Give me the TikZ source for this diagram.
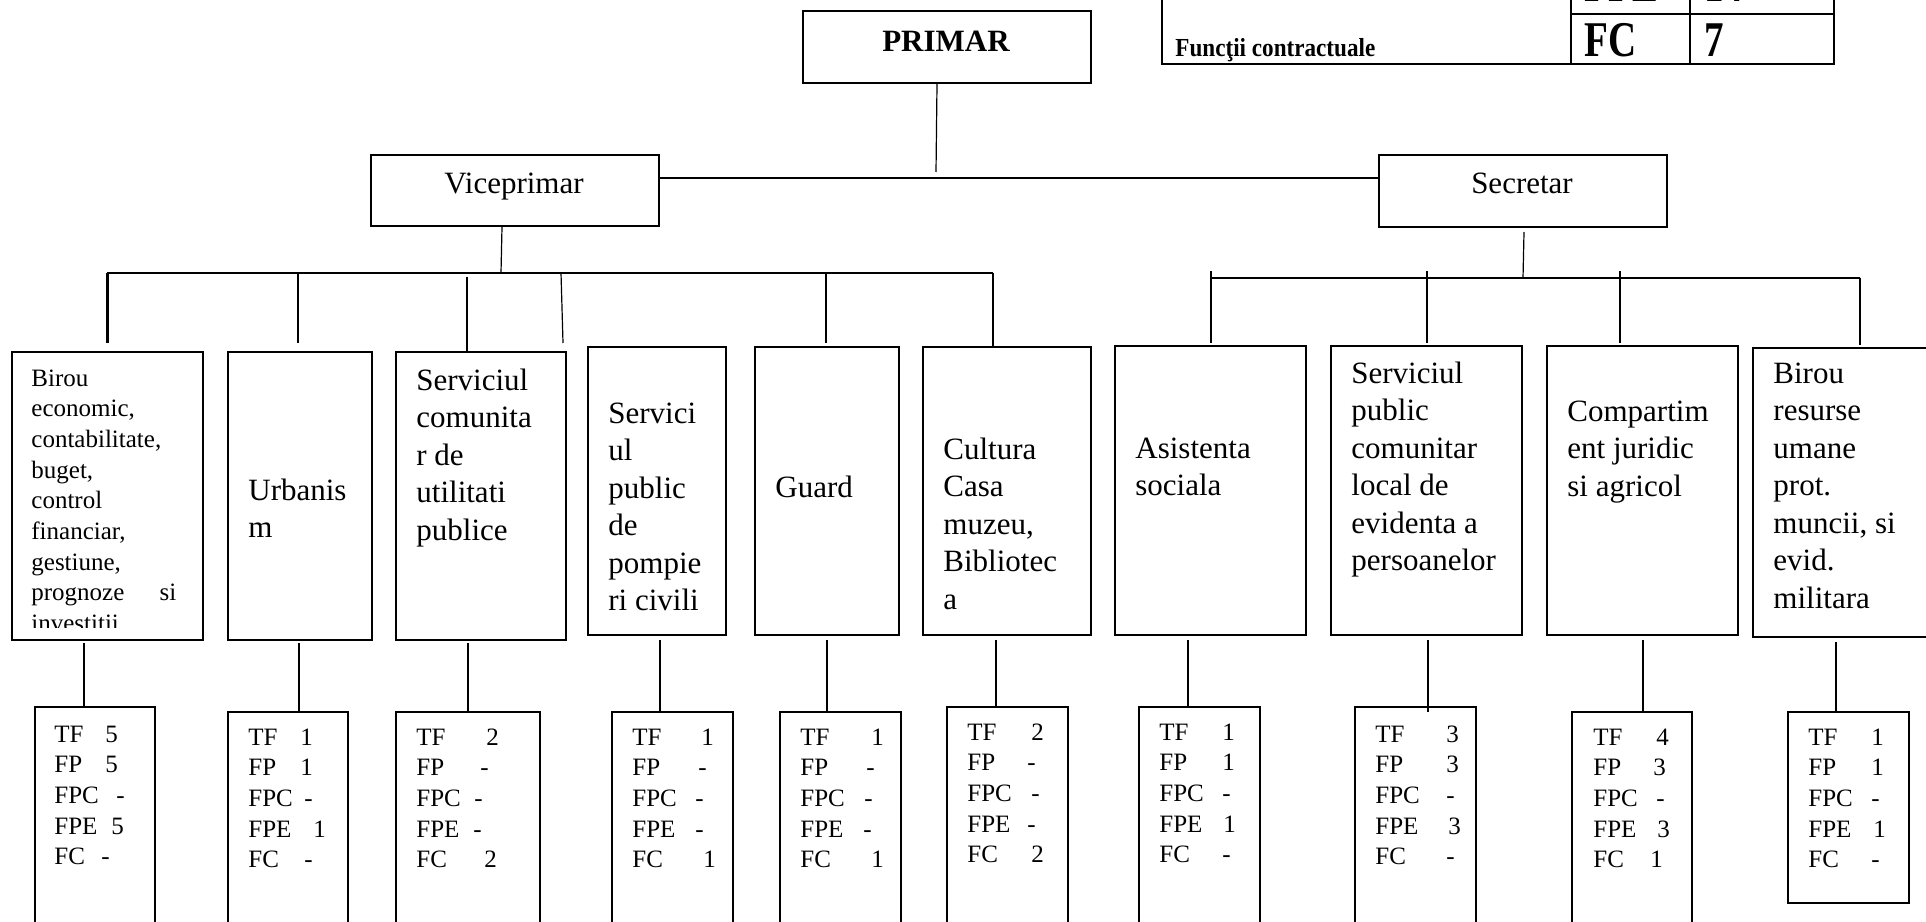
\documentclass[tikz,border=0pt]{standalone}
\usepackage{fontspec}
\setmainfont{Liberation Serif}
\usetikzlibrary{calc}
\newlength\pxu \setlength\pxu{0.5pt}
\newcommand\Lns[1]{\begin{tabular}[t]{@{}l@{}}#1\end{tabular}}
\newcommand\vrow[3]{\makebox[#2\pxu][l]{#1}#3}
\tikzset{
  bx/.style={draw, line width=1pt, inner sep=0pt, anchor=north west, rectangle},
  conn/.style={line width=0.6pt},
  bus/.style={line width=0.9pt},
  big/.style={anchor=base west, inner sep=0pt, font=\fontsize{15.5}{18.75}\selectfont},
  small/.style={anchor=base west, inner sep=0pt, font=\fontsize{12.5}{15.35}\selectfont},
  ctr/.style={anchor=base, inner sep=0pt, font=\fontsize{15.5}{18.75}\selectfont},
  tbl/.style={anchor=base west, inner sep=0pt, font=\bfseries\fontsize{13}{16}\selectfont},
  tblbig/.style={anchor=base west, inner sep=0pt, font=\bfseries\fontsize{25}{28}\selectfont},
}
\newcommand\bxn[5]{\node[bx, minimum width={(#4-#2)*0.5pt}, minimum height={(#5-#3)*0.5pt}] (#1) at (#2,#3) {};}
\begin{document}
\begin{tikzpicture}[x=0.5pt,y=-0.5pt]
\useasboundingbox (0,0) rectangle (1926,921);
\fill[white] (0,0) rectangle (1926,921);

% top table
\bxn{tcl}{1161}{-40}{1570}{63}
\bxn{tc1}{1570}{-60}{1689}{13}
\bxn{tc2}{1689}{-60}{1833}{13}
\bxn{tc3}{1570}{13}{1689}{63}
\bxn{tc4}{1689}{13}{1833}{63}
\node[tbl] (fct) at (1175,56) {\scalebox{0.89}[1]{Funcţii contractuale}};
\node[tblbig] (fcl) at (1584,56) {\scalebox{0.78}[1]{FC}};
\node[tblbig] (fcv) at (1704,56) {\scalebox{0.78}[1]{7}};
\node[tblbig] (fpel) at (1584,2) {\scalebox{0.78}[1]{FPE}};
\node[tblbig] (fpev) at (1704,2) {\scalebox{0.78}[1]{14}};

% top level
\bxn{primar}{802}{10}{1090}{82}
\node[ctr, font=\bfseries\fontsize{15.5}{18.75}\selectfont] (primart) at (946,51) {PRIMAR};
\bxn{vice}{370}{154}{658}{225}
\node[ctr] (vicet) at (514,193) {Viceprimar};
\bxn{sec}{1378}{154}{1666}{226}
\node[ctr] (sect) at (1522,193) {Secretar};

\coordinate (pend) at (936,172);
\draw[conn] ($(primar.south)+(-10,0)$) -- (pend);
\draw[bus] ($(vice.north east)+(0,24)$) -- ($(sec.north west)+(0,24)$);

% second row boxes
\bxn{b1}{11}{351}{202}{639}
\bxn{b2}{227}{351}{371}{639}
\bxn{b3}{395}{351}{565}{639}
\bxn{b4}{587}{346}{725}{634}
\bxn{b5}{754}{346}{898}{634}
\bxn{b6}{922}{346}{1090}{634}
\bxn{b7}{1114}{345}{1305}{634}
\bxn{b8}{1330}{345}{1521}{634}
\bxn{b9}{1546}{345}{1737}{634}
\bxn{b10}{1752}{347}{1940}{636}

% left bus
\coordinate (lbV) at (501,273);
\coordinate (d1) at (107,273);
\coordinate (d2) at (298,273);
\coordinate (d3) at (467,277);
\coordinate (d4) at (561,273);
\coordinate (d5) at (826,273);
\coordinate (d6) at (993,273);
\draw[conn] ($(vice.south)+(-13,0)$) -- (lbV);
\draw[bus] (d1) -- (d6);
\draw[line width=1.5pt] (d1) -- ($(b1.north west)+(96,-8)$);
\draw[conn] (d2) -- ($(b2.north west)+(71,-8)$);
\draw[conn] (d3) -- ($(b3.north west)+(72,0)$);
\draw[conn] (d4) -- ($(b3.north east)+(-4,-8)$);
\draw[conn] (d5) -- ($(b5.north west)+(72,-3)$);
\draw[conn] (d6) -- ($(b6.north west)+(71,0)$);

% right bus
\coordinate (rbV) at (1523,278);
\coordinate (e1) at (1211,278);
\coordinate (e2) at (1427,271);
\coordinate (e3) at (1620,271);
\coordinate (e4) at (1860,278);
\coordinate (e1t) at (1211,271);
\draw[conn] ($(sec.south)+(1,4)$) -- (rbV);
\draw[bus] (e1) -- (e4);
\draw[conn] (e1t) -- ($(b7.north west)+(97,-2)$);
\draw[conn] (e2) -- ($(b8.north west)+(97,-2)$);
\draw[conn] (e3) -- ($(b9.north west)+(74,-2)$);
\draw[conn] (e4) -- ($(b10.north west)+(108,-2)$);

% texts of second row
\begin{scope}
\clip (12,352) rectangle (201,627);
\node[small] (t1) at (31,386) {\Lns{Birou\\economic,\\contabilitate,\\buget,\\control\\financiar,\\gestiune,\\\makebox[145\pxu][s]{prognoze\hfill si}\\investitii}};
\end{scope}
\node[big] (t2) at (248,500) {\Lns{Urbanis\\m}};
\node[big] (t3) at (416,390) {\Lns{Serviciul\\comunita\\r de\\utilitati\\publice}};
\node[big] (t4) at (608,423) {\Lns{Servici\\ul\\public\\de\\pompie\\ri civili}};
\node[big] (t5) at (775,497) {Guard};
\node[big] (t6) at (943,459) {\Lns{Cultura\\Casa\\muzeu,\\Bibliotec\\a}};
\node[big] (t7) at (1135,458) {\Lns{Asistenta\\sociala}};
\node[big] (t8) at (1351,383) {\Lns{Serviciul\\public\\comunitar\\local de\\evidenta a\\persoanelor}};
\node[big] (t9) at (1567,421) {\Lns{Compartim\\ent juridic\\si agricol}};
\node[big] (t10) at (1773,383) {\Lns{Birou\\resurse\\umane\\prot.\\muncii, si\\evid.\\militara}};

% bottom boxes
\bxn{bb1}{34}{706}{154}{940}
\bxn{bb2}{227}{711}{347}{940}
\bxn{bb3}{395}{711}{539}{940}
\bxn{bb4}{611}{711}{732}{940}
\bxn{bb5}{779}{711}{900}{940}
\bxn{bb6}{946}{706}{1067}{940}
\bxn{bb7}{1138}{706}{1259}{940}
\bxn{bb8}{1354}{706}{1475}{940}
\bxn{bb9}{1571}{711}{1691}{940}
\bxn{bb10}{1787}{711}{1908}{902}

\draw[conn] ($(b1.south west)+(73,2)$) -- ($(bb1.north west)+(50,0)$);
\draw[conn] ($(b2.south west)+(72,2)$) -- ($(bb2.north west)+(72,0)$);
\draw[conn] ($(b3.south west)+(73,2)$) -- ($(bb3.north west)+(73,0)$);
\draw[conn] ($(b4.south west)+(73,4)$) -- ($(bb4.north west)+(49,0)$);
\draw[conn] ($(b5.south west)+(73,4)$) -- ($(bb5.north west)+(48,0)$);
\draw[conn] ($(b6.south west)+(74,4)$) -- ($(bb6.north west)+(50,0)$);
\draw[conn] ($(b7.south west)+(74,4)$) -- ($(bb7.north west)+(50,0)$);
\draw[conn] ($(b8.south west)+(98,4)$) -- ($(bb8.north west)+(74,6)$);
\draw[conn] ($(b9.south west)+(97,4)$) -- ($(bb9.north west)+(72,0)$);
\draw[conn] ($(b10.south west)+(84,4)$) -- ($(bb10.north west)+(49,0)$);

\node[small] (s1) at (54,742) {\Lns{\vrow{TF}{51}{5}\\\vrow{FP}{51}{5}\\\vrow{FPC}{62}{-}\\\vrow{FPE}{57}{5}\\\vrow{FC}{47}{-}}};
\node[small] (s2) at (248,745) {\Lns{\vrow{TF}{52}{1}\\\vrow{FP}{52}{1}\\\vrow{FPC}{56}{-}\\\vrow{FPE}{65}{1}\\\vrow{FC}{56}{-}}};
\node[small] (s3) at (416,745) {\Lns{\vrow{TF}{70}{2}\\\vrow{FP}{64}{-}\\\vrow{FPC}{58}{-}\\\vrow{FPE}{57}{-}\\\vrow{FC}{68}{2}}};
\node[small] (s4) at (632,745) {\Lns{\vrow{TF}{69}{1}\\\vrow{FP}{66}{-}\\\vrow{FPC}{63}{-}\\\vrow{FPE}{63}{-}\\\vrow{FC}{71}{1}}};
\node[small] (s5) at (800,745) {\Lns{\vrow{TF}{71}{1}\\\vrow{FP}{66}{-}\\\vrow{FPC}{64}{-}\\\vrow{FPE}{63}{-}\\\vrow{FC}{71}{1}}};
\node[small] (s6) at (967,740) {\Lns{\vrow{TF}{64}{2}\\\vrow{FP}{60}{-}\\\vrow{FPC}{64}{-}\\\vrow{FPE}{60}{-}\\\vrow{FC}{64}{2}}};
\node[small] (s7) at (1159,740) {\Lns{\vrow{TF}{63}{1}\\\vrow{FP}{63}{1}\\\vrow{FPC}{63}{-}\\\vrow{FPE}{64}{1}\\\vrow{FC}{63}{-}}};
\node[small] (s8) at (1375,742) {\Lns{\vrow{TF}{71}{3}\\\vrow{FP}{71}{3}\\\vrow{FPC}{71}{-}\\\vrow{FPE}{73}{3}\\\vrow{FC}{71}{-}}};
\node[small] (s9) at (1593,745) {\Lns{\vrow{TF}{63}{4}\\\vrow{FP}{60}{3}\\\vrow{FPC}{63}{-}\\\vrow{FPE}{64}{3}\\\vrow{FC}{57}{1}}};
\node[small] (s10) at (1808,745) {\Lns{\vrow{TF}{63}{1}\\\vrow{FP}{63}{1}\\\vrow{FPC}{63}{-}\\\vrow{FPE}{65}{1}\\\vrow{FC}{63}{-}}};
\end{tikzpicture}
\end{document}
